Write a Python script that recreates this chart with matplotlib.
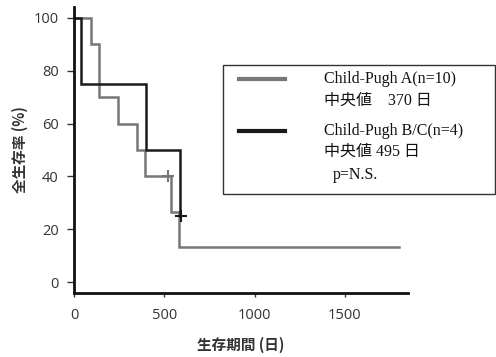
import matplotlib
matplotlib.use("Agg")
import matplotlib.pyplot as plt
from matplotlib.lines import Line2D
from matplotlib.patches import Rectangle

# Kaplan-Meier step data (days, survival %)
a_times = [0, 93, 139, 245, 349, 396, 538, 584, 1800]
a_surv = [100, 90, 70, 60, 50, 40, 26.7, 13.3, 13.3]
a_cens_t = [523]
a_cens_s = [40]

b_times = [0, 39, 398, 589]
b_surv = [100, 75, 50, 25]
b_cens_t = [592]
b_cens_s = [25]

xticks = [0, 500, 1000, 1500]
yticks = [0, 20, 40, 60, 80, 100]

legend_rows = ["Child-Pugh A(n=10)", "中央値　370 日", "Child-Pugh B/C(n=4)", "中央値 495 日", "p=N.S."]

W, H = 496, 357
fig = plt.figure(figsize=(W/100, H/100), dpi=100)
ax = fig.add_axes([74/W, 1-293/H, (408-74)/W, (293-7)/H])

gray = "#777777"
black = "#1a1a1a"

def km_xy(t, s):
    xs, ys = [t[0]], [s[0]]
    for i in range(1, len(t)):
        xs += [t[i], t[i]]
        ys += [s[i-1], s[i]]
    return xs, ys

xa, ya = km_xy(a_times, a_surv)
ax.plot(xa, ya, color=gray, lw=1.8, solid_joinstyle="miter")
ax.plot(a_cens_t, a_cens_s, marker="+", ms=8, mew=1.5, color=gray, ls="none")
xb, yb = km_xy(b_times, b_surv)
ax.plot(xb, yb, color=black, lw=1.8, solid_joinstyle="miter")
ax.plot(b_cens_t, b_cens_s, marker="+", ms=8, mew=1.5, color=black, ls="none")

ax.set_xlim(0, 1850)
ax.set_ylim(-4, 104)
ax.set_xticks(xticks)
ax.set_yticks(yticks)
for s in ["top", "right"]:
    ax.spines[s].set_visible(False)
for s in ["left", "bottom"]:
    ax.spines[s].set_linewidth(2)
    ax.spines[s].set_color("#111111")
ax.tick_params(axis="both", labelsize=10.5, labelcolor="#333333", color="#333333", width=1)
ax.tick_params(axis="y", length=5, pad=6)
ax.tick_params(axis="x", length=3, pad=8)
ax.set_ylabel("全生存率 (%)", family=["Noto Sans CJK JP", "DejaVu Sans"], fontsize=10.5, fontweight="bold", color="#333333", labelpad=4)
ax.set_xlabel("生存期間 (日)", family=["Noto Sans CJK JP", "DejaVu Sans"], fontsize=10.5, fontweight="bold", color="#333333", labelpad=10)
for lab in ax.get_xticklabels() + ax.get_yticklabels():
    lab.set_family(["Open Sans", "DejaVu Sans"])

def fx(px): return px / W
def fy(py): return 1 - py / H

fig.add_artist(Rectangle((fx(223), fy(194)), fx(496) - fx(223) - 0.002, fy(65) - fy(194),
                         transform=fig.transFigure, fill=True, facecolor="white",
                         edgecolor="#333333", lw=1))
fig.add_artist(Line2D([fx(239), fx(285)], [fy(79), fy(79)], transform=fig.transFigure, color=gray, lw=3))
fig.add_artist(Line2D([fx(239), fx(285)], [fy(131), fy(131)], transform=fig.transFigure, color=black, lw=3))
rows_y = [79, 101, 131, 152, 175]
rows_x = [324, 324, 324, 324, 333]
for txt, yy, xx in zip(legend_rows, rows_y, rows_x):
    fig.text(fx(xx), fy(yy), txt, ha="left", va="center", fontsize=11.5,
             family=["Liberation Serif", "Noto Sans CJK JP"], color="#111111")

fig.savefig("out.png", dpi=100)
